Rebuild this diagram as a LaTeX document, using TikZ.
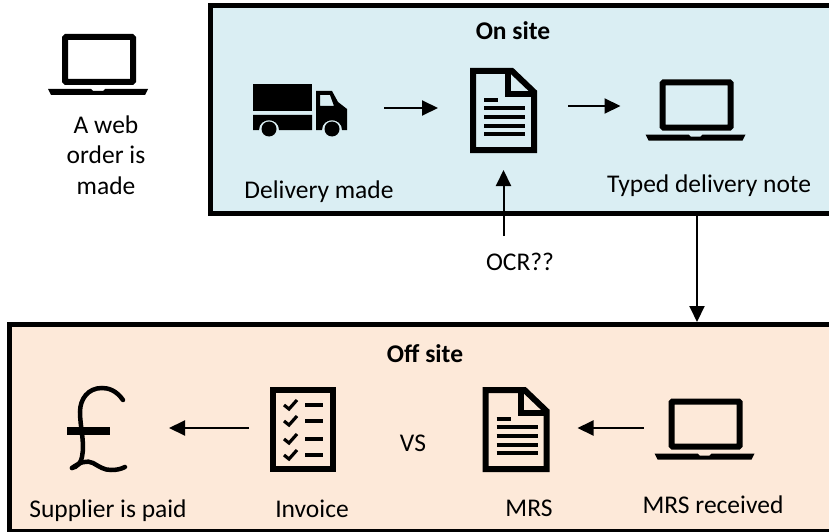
\documentclass[tikz,border=0pt]{standalone}
\usepackage{fontspec}
\setmainfont{Carlito}
\usetikzlibrary{arrows.meta}
\definecolor{onsitefill}{HTML}{DAEEF3}
\definecolor{offsitefill}{HTML}{FDE9D9}
\tikzset{
	zone/.style={draw=black, line width=5pt, outer sep=2.5pt, inner sep=0pt, anchor=north west},
	iconbox/.style={inner sep=0pt, outer sep=0pt},
	txt/.style={anchor=base, inner sep=0pt, font=\fontsize{25.5}{30.5}\selectfont},
	flow/.style={line width=2pt, -{Triangle[length=16pt, width=15pt]}},
	laptopicon/.pic={
		\draw[line width=6pt, rounded corners=1pt](17, 3) rectangle (85, 48);
		\fill(0, 55)--(43, 55)--(45, 57)--(55, 57)--(57, 55)--(100, 55)--(97, 61)--(3, 61)--cycle;
	},
	docicon/.pic={
		\draw[line width=6pt, miter limit=2](3, 3)--(42, 3)--(64, 24)--(64, 82)--(3, 82)--cycle;
		\draw[line width=6pt](38, 3)--(38, 26)--(64, 26);
		\draw[line width=3.5pt](14, 32)--(28, 32);
		\foreach \liney in {40, 49, 58, 66}
			\draw[line width=3.5pt](14, \liney)--(55, \liney);
	},
	truckicon/.pic={
		\fill(0, 0) rectangle (59, 27);
		\fill(0, 31)--(59, 31)--(59, 46)--(26, 46) .. controls (26, 33) and (6, 33) .. (6, 46)--(0, 46)--cycle;
		\fill[even odd rule](63, 7)--(79, 7)--(85, 18)--(94, 25)--(94, 46)--(89, 46) .. controls (89, 33) and (69, 33) .. (69, 46)--(63, 46)--cycle
			(67, 11)--(77, 11)--(81, 22)--(67, 22)--cycle;
		\fill(16, 45) circle (7.5);
		\fill(79, 45) circle (7.5);
	},
	listicon/.pic={
		\draw[line width=6pt](4, 3) rectangle (64, 82);
		\foreach \liney in {18, 34, 52, 68}{
			\draw[line width=3.2pt](15, \liney)--(20, \liney+4)--(28, \liney-5);
			\draw[line width=3.5pt](36, \liney)--(54, \liney);
		}
	},
	poundicon/.pic={
		\draw[line width=4.5pt, line cap=round](55, 13) .. controls (48, 3) and (40, 1) .. (34, 1) .. controls (20, 1) and (12, 12) .. (12, 25) .. controls (12, 40) and (17, 55) .. (14, 70) .. controls (13, 76) and (9, 80) .. (4, 81);
		\draw[line width=4.5pt, line cap=round](4, 81) .. controls (12, 75) and (19, 73) .. (25, 76) .. controls (32, 80) and (36, 83) .. (43, 83) .. controls (49, 83) and (53, 82) .. (57, 80);
		\fill(-1, 40) rectangle (42, 48);
	},
}
\begin{document}
\begin{tikzpicture}[x=1pt, y=-1pt]
	\useasboundingbox(0, 0) rectangle (829, 532);
	\clip(0, 0) rectangle (829, 532);
	\node[zone, fill=onsitefill, minimum width=630pt, minimum height=208pt](onsite)at(208, 3){};
	\node[zone, fill=offsitefill, minimum width=830pt, minimum height=207pt](offsite)at(7, 322){};
	\node[iconbox, minimum width=100pt, minimum height=62pt](laptopweb)at(98, 65){};
	\node[iconbox, minimum width=94pt, minimum height=53pt](truck)at(300, 110.5){};
	\node[iconbox, minimum width=67pt, minimum height=85pt](docnote)at(503.5, 110.5){};
	\node[iconbox, minimum width=100pt, minimum height=62pt](laptopnote)at(695.5, 110.5){};
	\node[iconbox, minimum width=59pt, minimum height=85pt](pound)at(97.5, 429.5){};
	\node[iconbox, minimum width=67pt, minimum height=85pt](invoice)at(302.5, 429.5){};
	\node[iconbox, minimum width=67pt, minimum height=85pt](docmrs)at(516, 429.5){};
	\node[iconbox, minimum width=100pt, minimum height=62pt](laptopmrs)at(704.5, 429.5){};
	\pic at(laptopweb.north west){laptopicon};
	\pic at(truck.north west){truckicon};
	\pic at(docnote.north west){docicon};
	\pic at(laptopnote.north west){laptopicon};
	\pic at(pound.north west){poundicon};
	\pic at(invoice.north west){listicon};
	\pic at(docmrs.north west){docicon};
	\pic at(laptopmrs.north west){laptopicon};
	\node[txt, anchor=center, align=center](weblabel)at(106, 155){A web\\order is\\made};
	\node[txt](trucklabel)at(319, 198){Delivery made};
	\node[txt](onsitelabel)at(513, 40){\textbf{On site}};
	\node[txt](notelabel)at(709, 192){Typed delivery note};
	\node[txt](ocrlabel)at(520, 270){OCR??};
	\node[txt](offsitelabel)at(425, 362){\textbf{Off site}};
	\node[txt](paidlabel)at(108, 517){Supplier is paid};
	\node[txt](invoicelabel)at(312, 517){Invoice};
	\node[txt](vslabel)at(413, 451){VS};
	\node[txt](mrslabel)at(529, 516){MRS};
	\node[txt](mrsreclabel)at(713, 513){MRS received};
	\coordinate(drop)at(697, 270);
	\draw[flow, shorten <=37pt, shorten >=32pt]([yshift=2.5pt]truck.east)--([yshift=2.5pt]docnote.west);
	\draw[flow, shorten <=31pt, shorten >=25pt]([yshift=4.5pt]docnote.east)--([yshift=4.5pt]laptopnote.west);
	\coordinate(ocrfoot)at(503.5, 236);
	\draw[flow, shorten >=17pt](ocrfoot)--(docnote.south);
	\draw[flow](onsite.south -| drop)--(offsite.north -| drop);
	\draw[flow, shorten <=20pt, shorten >=42pt]([yshift=1.5pt]invoice.west)--([yshift=1.5pt]pound.east);
	\draw[flow, shorten <=11pt, shorten >=28pt]([yshift=1.5pt]laptopmrs.west)--([yshift=1.5pt]docmrs.east);
\end{tikzpicture}
\end{document}
